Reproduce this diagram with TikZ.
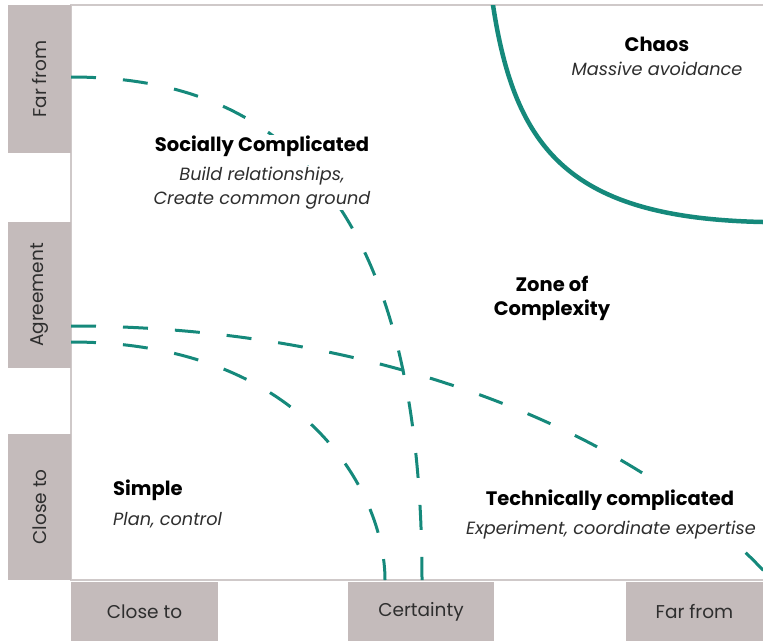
\documentclass[tikz,border=0pt]{standalone}
\usepackage{fontspec}
\setmainfont{Poppins}
\definecolor{boxgrey}{HTML}{C4BBBB}
\definecolor{framegrey}{HTML}{CFC9C9}
\definecolor{zoneteal}{HTML}{15897B}
\definecolor{txtdark}{HTML}{2E2E2E}
\begin{document}
\begin{tikzpicture}[x=1pt,y=-1pt,
  axisbox/.style={fill=boxgrey, draw=none, text=txtdark, inner sep=0pt,
    font=\fontsize{18.5}{20}\selectfont},
  zoneline/.style={draw=zoneteal, line width=3pt, dash pattern=on 25pt off 27pt},
  chaosline/.style={draw=zoneteal, line width=4.5pt},
  zonetitle/.style={font=\bfseries\fontsize{19.5}{24}\selectfont, text=black, fill=white, inner sep=1pt},
  zonesub/.style={font=\itshape\fontsize{17.7}{24}\selectfont, text=txtdark, fill=white, inner sep=1pt, align=center},
]
\useasboundingbox (0,0) rectangle (763,641);
% frame
\draw[framegrey, line width=1.5pt] (763,5) -- (71,5) -- (71,580) -- (763,580);
% axis boxes
\node[axisbox, rotate=90, minimum width=148pt, minimum height=63pt] (lfar) at (39.5,79) {Far from};
\node[axisbox, rotate=90, minimum width=146pt, minimum height=63pt] (lagr) at (39.5,295) {Agreement};
\node[axisbox, rotate=90, minimum width=146pt, minimum height=63pt] (lclose) at (39.5,507) {Close to};
\node[axisbox, minimum width=147pt, minimum height=59pt] (bclose) at (144.5,611.5) {Close to};
\node[axisbox, minimum width=146pt, minimum height=59pt] (bcert) at (421,611.5) {Certainty};
\node[axisbox, minimum width=137pt, minimum height=59pt] (bfar) at (694.5,611.5) {Far from};
% curves
\begin{scope}
\clip (71,5) rectangle (763,580);
\draw[zoneline] (71,77) .. controls (254,77) and (422,171) .. (422,580);
\draw[zoneline] (71,342) .. controls (303,342) and (385,492) .. (385,580);
\draw[zoneline] (71,326) arc[start angle=-90, end angle=-25, x radius=800, y radius=490];
\draw[chaosline] (491.5,-5) -- (493,5) .. controls (515,150) and (570,218) .. (763,222) -- (770,222);
\end{scope}
% labels
\node[zonetitle] (chaos) at (657,44) {Chaos};
\node[zonesub] (chaossub) at (657,69) {Massive avoidance};
\node[zonetitle] (social) at (262,146) {Socially Complicated};
\node[zonesub] (socialsub) at (262,188) {Build relationships,\\Create common ground};
\node[zonetitle, align=center] (zone) at (552,298) {Zone of\\Complexity};
\node[zonetitle, anchor=west] (simple) at (112,490) {Simple};
\node[zonesub, anchor=west] (simplesub) at (112,520) {Plan, control};
\node[zonetitle, inner xsep=4pt, inner ysep=9pt] (tech) at (610,500) {Technically complicated};
\node[zonesub, inner xsep=5pt, inner ysep=11pt] (techsub) at (611,530) {Experiment, coordinate expertise};
\end{tikzpicture}
\end{document}
